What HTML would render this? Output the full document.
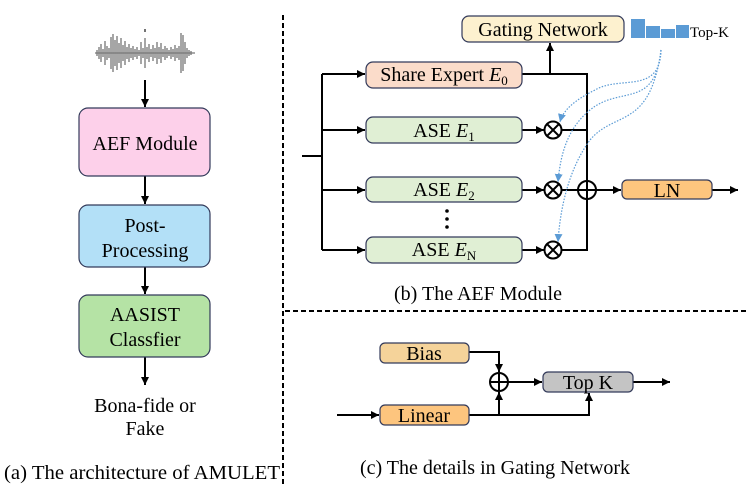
<!DOCTYPE html>
<html><head><meta charset="utf-8"><style>
html,body{margin:0;padding:0;background:#fff;}
svg, svg text, svg tspan{font-family:"Liberation Serif","DejaVu Serif","Times New Roman",serif !important;}
</style></head><body>
<svg width="747" height="493" viewBox="0 0 747 493" xmlns="http://www.w3.org/2000/svg" font-family="Liberation Serif, DejaVu Serif, serif">
<defs>
<marker id="a" viewBox="0 0 10 10" refX="10" refY="5" markerWidth="8" markerHeight="8" orient="auto" markerUnits="userSpaceOnUse"><path d="M0,0L10,5L0,10z" fill="#000"/></marker>
<marker id="b" viewBox="0 0 10 10" refX="10" refY="5" markerWidth="8" markerHeight="8" orient="auto" markerUnits="userSpaceOnUse"><path d="M0,0L10,5L0,10z" fill="#5b9bd5"/></marker>
</defs>
<g stroke="#777" stroke-width="1.3">
<path d="M95,53h100"/>
<path d="M97,50v6M99,47v12M101,44v18M103,49v8M105,41v24M107,46v14M109,48v10M111,37v32M113,34v38M115,40v26M117,36v34M119,43v20M121,38v30M123,45v16M125,41v24M127,47v12M129,44v18M131,48v10M133,46v14M135,49v8M137,47v12M139,50v6M141,42v22M143,48v10M145,38v30M147,47v12M149,44v18M151,49v8M153,45v16M155,48v10M157,42v22M159,47v12M161,43v20M163,49v8M165,46v14M167,48v10M169,50v6M171,47v12M173,49v8M175,45v16M177,48v10M179,46v14M181,33v40M183,35v36M185,42v22M187,48v10M189,50v6M191,51v4"/>
<path d="M145,29v3" stroke="#444" stroke-width="1.5"/>
</g>
<g stroke="#000" stroke-width="2" fill="none">
<path d="M145,80V107" marker-end="url(#a)"/>
<path d="M145,176V204" marker-end="url(#a)"/>
<path d="M145,267V294" marker-end="url(#a)"/>
<path d="M145,357V385" marker-end="url(#a)"/>
</g>
<rect x="79" y="108" width="131" height="68" rx="9" fill="#fdd0ea" stroke="#333a5a" stroke-width="1.2"/>
<text x="145" y="150" font-size="20" text-anchor="middle">AEF Module</text>
<rect x="79" y="205" width="131" height="62" rx="9" fill="#b3e0f7" stroke="#333a5a" stroke-width="1.2"/>
<text x="145" y="232" font-size="20" text-anchor="middle">Post-</text>
<text x="145" y="257" font-size="20" text-anchor="middle">Processing</text>
<rect x="79" y="295" width="131" height="62" rx="9" fill="#b5e3a5" stroke="#333a5a" stroke-width="1.2"/>
<text x="145" y="321" font-size="20" text-anchor="middle">AASIST</text>
<text x="145" y="346" font-size="20" text-anchor="middle">Classfier</text>
<text x="145" y="412" font-size="20" text-anchor="middle">Bona-fide or</text>
<text x="145" y="435" font-size="20" text-anchor="middle">Fake</text>
<text x="4" y="479" font-size="20" textLength="276" lengthAdjust="spacingAndGlyphs">(a) The architecture of AMULET</text>
<path d="M283,15V487" stroke="#000" stroke-width="2" stroke-dasharray="5,3"/>
<path d="M285,311H747" stroke="#000" stroke-width="2" stroke-dasharray="5,3"/>
<g stroke="#000" stroke-width="2" fill="none">
<path d="M302,156H322"/>
<path d="M322,74V250"/>
<path d="M322,74H365" marker-end="url(#a)"/>
<path d="M322,130H365" marker-end="url(#a)"/>
<path d="M322,190H365" marker-end="url(#a)"/>
<path d="M322,250H365" marker-end="url(#a)"/>
<path d="M522,74H587V250H562"/>
<path d="M550,74V43" marker-end="url(#a)"/>
<path d="M522,130H544" marker-end="url(#a)"/>
<path d="M522,190H544" marker-end="url(#a)"/>
<path d="M522,250H544" marker-end="url(#a)"/>
<path d="M562,130H587"/>
<path d="M562,190H578"/>
<path d="M596,190H621" marker-end="url(#a)"/>
<path d="M712,190H738" marker-end="url(#a)"/>
<circle cx="553" cy="130" r="8.5"/><path d="M547,124l12,12M559,124l-12,12"/>
<circle cx="553" cy="190" r="8.5"/><path d="M547,184l12,12M559,184l-12,12"/>
<circle cx="553" cy="250" r="8.5"/><path d="M547,244l12,12M559,244l-12,12"/>
<circle cx="587" cy="190" r="9"/><path d="M578,190h18M587,181v18"/>
</g>
<rect x="462" y="16" width="162" height="26" rx="7" fill="#fdf1cf" stroke="#333a5a" stroke-width="1.2"/>
<text x="543" y="36" font-size="20" text-anchor="middle">Gating Network</text>
<rect x="366" y="62" width="156" height="26" rx="7" fill="#fbdcca" stroke="#333a5a" stroke-width="1.2"/>
<text x="444" y="81" font-size="20" text-anchor="middle">Share Expert <tspan font-style="italic">E</tspan><tspan font-size="13" dy="4">0</tspan></text>
<rect x="366" y="117" width="156" height="26" rx="7" fill="#e0efd4" stroke="#333a5a" stroke-width="1.2"/>
<text x="444" y="137" font-size="20" text-anchor="middle">ASE <tspan font-style="italic">E</tspan><tspan font-size="13" dy="4">1</tspan></text>
<rect x="366" y="177" width="156" height="25" rx="7" fill="#e0efd4" stroke="#333a5a" stroke-width="1.2"/>
<text x="444" y="196" font-size="20" text-anchor="middle">ASE <tspan font-style="italic">E</tspan><tspan font-size="13" dy="4">2</tspan></text>
<rect x="366" y="237" width="156" height="26" rx="7" fill="#e0efd4" stroke="#333a5a" stroke-width="1.2"/>
<text x="444" y="256" font-size="20" text-anchor="middle">ASE <tspan font-style="italic">E</tspan><tspan font-size="13" dy="4">N</tspan></text>
<g fill="#000"><circle cx="447" cy="211" r="1.8"/><circle cx="447" cy="219" r="1.8"/><circle cx="447" cy="227" r="1.8"/></g>
<rect x="622" y="180" width="90" height="19" rx="5" fill="#fdc57e" stroke="#333a5a" stroke-width="1.2"/>
<text x="667" y="197" font-size="20" text-anchor="middle">LN</text>
<g fill="#5b9bd5">
<rect x="631" y="19" width="14" height="19"/><rect x="646" y="26" width="14" height="12"/><rect x="661" y="29" width="14" height="9"/><rect x="676" y="25" width="13" height="13"/>
</g>
<text x="690" y="37" font-size="15">Top-K</text>
<g stroke="#5b9bd5" stroke-width="1.2" fill="none" stroke-dasharray="1.5,1.5">
<path d="M661,50C660,95 620,75 595,90C575,100 563,110 560,122" marker-end="url(#b)"/>
<path d="M661,50C655,110 620,85 590,110C565,130 560,160 558,182" marker-end="url(#b)"/>
<path d="M661,50C650,130 615,110 590,140C568,170 560,210 558,242" marker-end="url(#b)"/>
</g>
<text x="478" y="300" font-size="20" text-anchor="middle">(b) The AEF Module</text>
<g stroke="#000" stroke-width="2" fill="none">
<path d="M337,415H379" marker-end="url(#a)"/>
<path d="M469,352H499V372" marker-end="url(#a)"/>
<path d="M469,415H589V393" marker-end="url(#a)"/>
<path d="M499,415V392" marker-end="url(#a)"/>
<path d="M508,382H542" marker-end="url(#a)"/>
<path d="M633,382H670" marker-end="url(#a)"/>
<circle cx="499" cy="382" r="9"/><path d="M490,382h18M499,373v18"/>
</g>
<rect x="380" y="343" width="89" height="20" rx="5" fill="#f5d39a" stroke="#333a5a" stroke-width="1.2"/>
<text x="424" y="360" font-size="20" text-anchor="middle">Bias</text>
<rect x="380" y="405" width="89" height="20" rx="5" fill="#fdc57e" stroke="#333a5a" stroke-width="1.2"/>
<text x="424" y="422" font-size="20" text-anchor="middle">Linear</text>
<rect x="543" y="372" width="90" height="20" rx="5" fill="#c4c4c4" stroke="#333a5a" stroke-width="1.2"/>
<text x="588" y="389" font-size="20" text-anchor="middle">Top K</text>
<text x="495" y="474" font-size="20" text-anchor="middle">(c) The details in Gating Network</text>
</svg>
</body></html>
